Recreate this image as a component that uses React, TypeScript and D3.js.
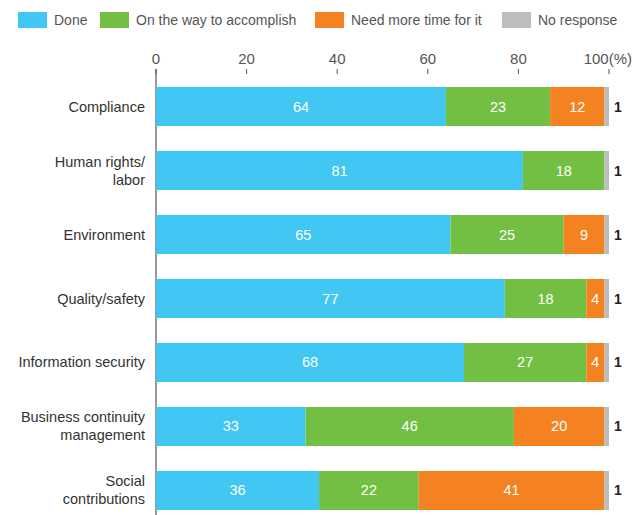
import React from "react";
import * as d3 from "d3";

const categories = [
  ["Compliance"],
  ["Human rights/", "labor"],
  ["Environment"],
  ["Quality/safety"],
  ["Information security"],
  ["Business continuity", "management"],
  ["Social", "contributions"],
];
const done = [64, 81, 65, 77, 68, 33, 36];
const onTheWay = [23, 18, 25, 18, 27, 46, 22];
const needMore = [12, 0, 9, 4, 4, 20, 41];
const noResponse = [1, 1, 1, 1, 1, 1, 1];
const seriesNames = ["Done", "On the way to accomplish", "Need more time for it", "No response"];
const colors = ["#41c7f2", "#72bf44", "#f58220", "#bcbec0"];
const ticks = [0, 20, 40, 60, 80, 100];

const W = 634;
const H = 515;
const FONT = "'Liberation Sans', Arial, sans-serif";

export default function App() {
  const x = d3.scaleLinear().domain([0, 100]).range([156, 609]);
  const keys = categories.map((c) => c.join(" "));
  const y = d3.scaleBand<string>().domain(keys).range([87, 510]).paddingInner(0.39).paddingOuter(0);
  const rows = keys.map((k, i) => ({
    key: k,
    values: [done[i], onTheWay[i], needMore[i], noResponse[i]],
  }));
  const stack = d3.stack<any>().keys(["0", "1", "2", "3"]).value((d: any, key: string) => d.values[+key]);
  const stacked = stack(rows as any);
  const legendX = [18, 100, 315, 502];

  return (
    <svg width={W} height={H} style={{ position: "absolute", left: 0, top: 0 }} fontFamily={FONT}>
      {/* legend */}
      {seriesNames.map((n, i) => (
        <g key={n} transform={`translate(${legendX[i]},12)`}>
          <rect width={29} height={16} fill={colors[i]} />
          <text x={36} y={13} fontSize={14} fill="#555">{n}</text>
        </g>
      ))}
      {/* axis ticks */}
      {ticks.map((t) => (
        <g key={t}>
          <text
            x={t === 100 ? 632 : x(t)}
            y={64}
            fontSize={15}
            fill="#555"
            textAnchor={t === 100 ? "end" : "middle"}
          >
            {t === 100 ? "100(%)" : t}
          </text>
          <line x1={x(t)} x2={x(t)} y1={69} y2={74} stroke="#555" strokeWidth={1} />
        </g>
      ))}
      <line x1={x(0)} x2={x(0)} y1={69} y2={H} stroke="#555" strokeWidth={1.2} />
      {/* bars */}
      {stacked.map((s, si) =>
        s.map((d, i) => {
          const w = x(d[1]) - x(d[0]);
          if (w <= 0) return null;
          const yy = y(keys[i])!;
          return (
            <g key={`${si}-${i}`}>
              <rect x={x(d[0])} y={yy} width={w} height={y.bandwidth()} fill={colors[si]} />
              {si < 3 && (
                <text x={(x(d[0]) + x(d[1])) / 2} y={yy + y.bandwidth() / 2 + 5} fontSize={14.5} fill="#fff" textAnchor="middle">
                  {rows[i].values[si]}
                </text>
              )}
            </g>
          );
        })
      )}
      {/* no response labels */}
      {rows.map((r, i) => (
        <text key={r.key} x={614} y={y(r.key)! + y.bandwidth() / 2 + 5} fontSize={14} fontWeight="bold" fill="#222">
          {r.values[3]}
        </text>
      ))}
      {/* category labels */}
      {categories.map((c, i) => {
        const cy = y(keys[i])! + y.bandwidth() / 2;
        const lh = 18;
        const start = cy - ((c.length - 1) * lh) / 2 + 5;
        return (
          <text key={keys[i]} x={145} fontSize={14.5} fill="#333" textAnchor="end">
            {c.map((line, j) => (
              <tspan key={j} x={145} y={start + j * lh}>{line}</tspan>
            ))}
          </text>
        );
      })}
    </svg>
  );
}
